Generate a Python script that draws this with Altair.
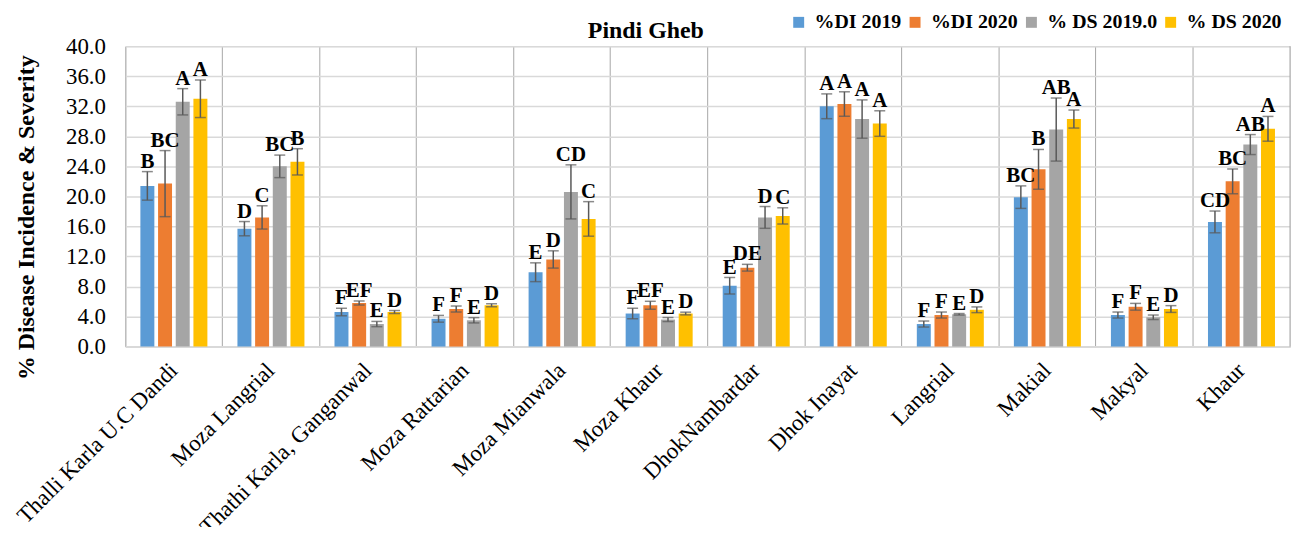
import altair as alt
import pandas as pd

sites = ["Thalli Karla U.C Dandi", "Moza Langrial", "Thathi Karla, Ganganwal", "Moza Rattarian",
         "Moza Mianwala", "Moza Khaur", "DhokNambardar", "Dhok Inayat", "Langrial", "Makial",
         "Makyal", "Khaur"]
series = ["%DI 2019", "%DI 2020", "% DS 2019.0", "% DS 2020"]
colors = ["#5b9bd5", "#ed7d31", "#a5a5a5", "#ffc000"]

di2019 = [21.4, 15.7, 4.6, 3.7, 9.9, 4.4, 8.1, 32.0, 3.0, 19.9, 4.2, 16.6]
di2019_err = [1.9, 0.95, 0.5, 0.45, 1.25, 0.7, 1.1, 1.65, 0.4, 1.5, 0.4, 1.45]
di2020 = [21.7, 17.2, 5.8, 5.0, 11.6, 5.5, 10.5, 32.3, 4.2, 23.6, 5.3, 22.0]
di2020_err = [4.4, 1.55, 0.27, 0.4, 1.15, 0.53, 0.45, 1.63, 0.4, 2.65, 0.45, 1.65]
ds2019 = [32.6, 24.0, 3.0, 3.5, 20.6, 3.6, 17.2, 30.3, 4.3, 28.9, 3.9, 26.9]
ds2019_err = [1.75, 1.5, 0.35, 0.35, 3.6, 0.27, 1.45, 2.55, 0.1, 4.2, 0.3, 1.33]
ds2020 = [33.0, 24.6, 4.6, 5.5, 17.0, 4.4, 17.4, 29.7, 4.9, 30.3, 5.0, 29.0]
ds2020_err = [2.5, 1.75, 0.2, 0.2, 2.3, 0.18, 1.08, 1.7, 0.38, 1.2, 0.45, 1.65]

let2019 = ["B", "D", "F", "F", "E", "F", "E", "A", "F", "BC", "F", "CD"]
let2020 = ["BC", "C", "EF", "F", "D", "EF", "DE", "A", "F", "B", "F", "BC"]
letds2019 = ["A", "BC", "E", "E", "CD", "E", "D", "A", "E", "AB", "E", "AB"]
letds2020 = ["A", "B", "D", "D", "C", "D", "C", "A", "D", "A", "D", "A"]
y_ticks = [0, 4, 8, 12, 16, 20, 24, 28, 32, 36, 40]

rows = []
for s, vals, errs, lets in zip(series, [di2019, di2020, ds2019, ds2020],
                               [di2019_err, di2020_err, ds2019_err, ds2020_err],
                               [let2019, let2020, letds2019, letds2020]):
    for site, v, e, l in zip(sites, vals, errs, lets):
        rows.append({"site": site, "series": s, "value": v, "lo": v - e, "hi": v + e, "letter": l})
df = pd.DataFrame(rows)

FONT = "Liberation Serif"
W, H = 1171, 302

x_axis = alt.Axis(title=None, labelAngle=-45, labelAlign="right", labelBaseline="middle",
                  labelFont=FONT, labelFontSize=23, labelColor="black", labelPadding=20,
                  labelLimit=0, labelOverlap=False, ticks=False, grid=True, bandPosition=0,
                  gridColor="#a6a6a6", gridWidth=1, domainColor="#d9d9d9", domainWidth=2)
y_axis = alt.Axis(title="% Disease Incidence & Severity", values=y_ticks,
                  format=".1f", labelFont=FONT, labelFontSize=23, labelColor="black",
                  labelPadding=20, labelOverlap=False, ticks=False, domain=False,
                  gridColor="#d9d9d9", gridWidth=1.5, titleFont=FONT, titleFontSize=24,
                  titleFontWeight="bold", titleColor="black", titleX=-99, titleY=172,
                  titleAngle=-90, titleAlign="center", titleBaseline="middle")

x_scale = alt.Scale(paddingInner=0, paddingOuter=0)
y_scale = alt.Scale(domain=[0, 40], nice=False)
x_enc = alt.X("site:N", sort=sites, scale=x_scale, axis=x_axis)
xo_enc = alt.XOffset("series:N", sort=series, scale=alt.Scale(paddingInner=0.21, paddingOuter=0.85))


def yenc(field):
    return alt.Y(field, scale=y_scale, axis=y_axis)


base = alt.Chart(df)

bars = base.mark_bar().encode(
    x=x_enc,
    xOffset=xo_enc,
    y=yenc("value:Q"),
    color=alt.Color("series:N", sort=series, scale=alt.Scale(domain=series, range=colors),
                    legend=alt.Legend(orient="none", legendX=667, legendY=-34, direction="horizontal",
                                      title=None, symbolType="square", symbolSize=121,
                                      symbolStrokeWidth=0, labelFont=FONT, labelFontSize=20,
                                      labelFontWeight="bold", labelColor="black", labelOffset=6,
                                      columnPadding=3)),
)

err = base.mark_rule(color="#595959", strokeWidth=1.5).encode(
    x=x_enc, xOffset=xo_enc, y=yenc("lo:Q"), y2="hi:Q")

cap_hi = base.mark_tick(color="#595959", thickness=1.5, size=11).encode(
    x=x_enc, xOffset=xo_enc, y=yenc("hi:Q"))
cap_lo = base.mark_tick(color="#595959", thickness=1.5, size=11).encode(
    x=x_enc, xOffset=xo_enc, y=yenc("lo:Q"))

letters = base.mark_text(font=FONT, fontSize=21, fontWeight="bold", color="black",
                         baseline="alphabetic", dy=-4).encode(
    x=x_enc, xOffset=xo_enc, y=yenc("hi:Q"), text="letter:N")

border = alt.Chart(pd.DataFrame({"b": [0]})).mark_rule(color="#a6a6a6", strokeWidth=1).encode(
    x=alt.value(W), y=alt.value(0), y2=alt.value(H))

chart = alt.layer(bars, err, cap_hi, cap_lo, letters, border).properties(
    width=W, height=H,
    title=alt.TitleParams(text="Pindi Gheb", anchor="start", frame="group", dx=465, offset=0, dy=50,
                          baseline="alphabetic", font=FONT, fontSize=24, fontWeight="bold",
                          color="black"),
    autosize=alt.AutoSizeParams(type="none"),
    padding={"left": 118, "top": 37, "right": 1, "bottom": 180},
).configure_view(stroke=None).configure(background="white")

chart.save("out.html", embed_options={"renderer": "svg", "actions": False})
